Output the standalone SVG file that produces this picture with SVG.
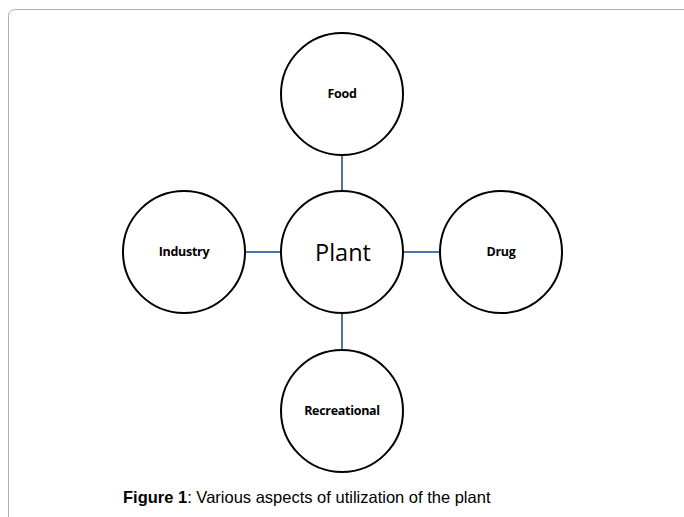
<svg xmlns="http://www.w3.org/2000/svg" width="684" height="517" viewBox="0 0 684 517">
<style>
.node circle{fill:#fff;stroke:#000;stroke-width:2}
.lbl{font-family:"Open Sans","Liberation Sans",sans-serif;font-weight:bold;font-size:12.5px;text-anchor:middle;fill:#000;letter-spacing:-0.3px}
.conn line{stroke:#4a74a8;stroke-width:2}
</style>
<rect x="8.5" y="9.5" width="690" height="530" rx="6" fill="#fff" stroke="#b0b0b0" stroke-width="1"/>
<g id="connectors" class="conn">
<line x1="342" y1="155" x2="342" y2="191"/>
<line x1="245" y1="252" x2="281" y2="252"/>
<line x1="403" y1="252" x2="440" y2="252"/>
<line x1="342" y1="313" x2="342" y2="350"/>
</g>
<g id="food" class="node"><circle cx="342" cy="94" r="61"/><text class="lbl" x="342" y="98">Food</text></g>
<g id="plant" class="node"><circle cx="342" cy="252" r="61"/><text x="343" y="261" text-anchor="middle" font-family="Open Sans, Liberation Sans, sans-serif" font-size="23.5">Plant</text></g>
<g id="industry" class="node"><circle cx="184" cy="252" r="61"/><text class="lbl" x="184" y="256">Industry</text></g>
<g id="drug" class="node"><circle cx="501" cy="252" r="61"/><text class="lbl" x="501" y="256">Drug</text></g>
<g id="recreational" class="node"><circle cx="342" cy="411" r="61"/><text class="lbl" x="342" y="415">Recreational</text></g>
<text x="123" y="503" font-family="Liberation Sans, Arial, sans-serif" font-size="16.5" fill="#000"><tspan font-weight="bold">Figure 1</tspan>: Various aspects of utilization of the plant</text>
</svg>
